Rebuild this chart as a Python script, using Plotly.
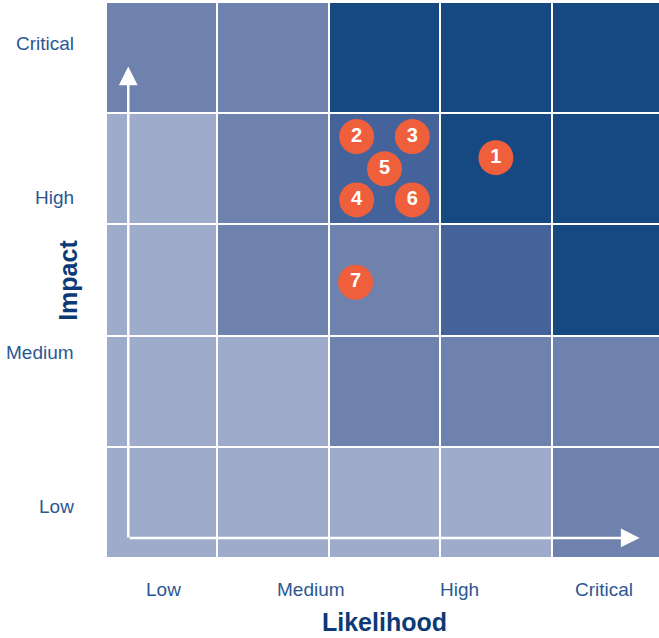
import plotly.graph_objects as go

# Risk matrix: rows from Low impact (bottom) to Critical impact (top),
# columns from Low likelihood (left) to Critical likelihood (right).
# Severity levels: 0 = low, 1 = moderate, 2 = elevated, 3 = severe
severity = [
    [0, 0, 0, 0, 1],  # Low impact
    [0, 0, 1, 1, 1],
    [0, 1, 1, 2, 3],
    [0, 1, 2, 3, 3],
    [1, 1, 3, 3, 3],  # Critical impact
]
severity_colors = ["#9eabcb", "#6f82ae", "#44639a", "#164882"]

# Numbered risks placed on the matrix (likelihood, impact)
risk_ids = ["1", "2", "3", "4", "5", "6", "7"]
risk_likelihood = [3.50, 2.25, 2.75, 2.25, 2.50, 2.75, 2.24]
risk_impact = [3.60, 3.79, 3.79, 3.22, 3.50, 3.22, 2.48]

level_labels = ["Low", "Medium", "High", "Critical"]
x_label_pos = [0.52, 1.84, 3.17, 4.47]
y_label_pos = [0.46, 1.85, 3.24, 4.63]

label_color = "#2c5793"
title_color = "#0b3a76"
font_family = "Liberation Sans, Arial, sans-serif"

n = len(severity_colors)
colorscale = []
for i, c in enumerate(severity_colors):
    colorscale.append([i / n, c])
    colorscale.append([(i + 1) / n, c])

fig = go.Figure()

fig.add_trace(go.Heatmap(
    z=severity,
    x=[0.5, 1.5, 2.5, 3.5, 4.5],
    y=[0.5, 1.5, 2.5, 3.5, 4.5],
    colorscale=colorscale,
    zmin=-0.5, zmax=n - 0.5,
    showscale=False,
    xgap=2, ygap=2,
    hoverinfo="skip",
))

fig.add_trace(go.Scatter(
    x=risk_likelihood,
    y=risk_impact,
    mode="markers+text",
    text=risk_ids,
    textposition="middle center",
    textfont=dict(family=font_family, size=20, color="white", weight="bold"),
    marker=dict(size=35, color="#ef5f3c", line=dict(width=0)),
    hoverinfo="skip",
    showlegend=False,
))

annotations = []

# Axis arrows
annotations.append(dict(
    x=0.20, y=4.42, ax=0.20, ay=0.17,
    xref="x", yref="y", axref="x", ayref="y",
    text="", showarrow=True, arrowhead=2, arrowsize=1.5,
    arrowwidth=2.5, arrowcolor="white",
))
annotations.append(dict(
    x=4.79, y=0.18, ax=0.20, ay=0.18,
    xref="x", yref="y", axref="x", ayref="y",
    text="", showarrow=True, arrowhead=2, arrowsize=1.5,
    arrowwidth=2.5, arrowcolor="white",
))

for lab, xp in zip(level_labels, x_label_pos):
    annotations.append(dict(
        x=xp, y=-0.056, xref="x", yref="paper",
        text=lab, showarrow=False, xanchor="center", yanchor="middle",
        font=dict(family=font_family, size=19, color=label_color),
    ))

for lab, yp in zip(level_labels, y_label_pos):
    annotations.append(dict(
        x=-0.054, y=yp, xref="paper", yref="y",
        text=lab, showarrow=False, xanchor="right", yanchor="middle",
        font=dict(family=font_family, size=19, color=label_color),
    ))

annotations.append(dict(
    x=0.503, y=-0.115, xref="paper", yref="paper",
    text="<b>Likelihood</b>", showarrow=False,
    xanchor="center", yanchor="middle",
    font=dict(family=font_family, size=25, color=title_color),
))
annotations.append(dict(
    x=-0.069, y=0.5, xref="paper", yref="paper",
    text="<b>Impact</b>", showarrow=False, textangle=-90,
    xanchor="center", yanchor="middle",
    font=dict(family=font_family, size=25, color=title_color),
))

fig.update_layout(
    width=659, height=638,
    margin=dict(l=106, r=0, t=2, b=80),
    paper_bgcolor="white",
    plot_bgcolor="white",
    showlegend=False,
    annotations=annotations,
    xaxis=dict(range=[0, 4.964], visible=False, fixedrange=True),
    yaxis=dict(range=[0, 5], visible=False, fixedrange=True),
)

fig.write_html("out.html")
